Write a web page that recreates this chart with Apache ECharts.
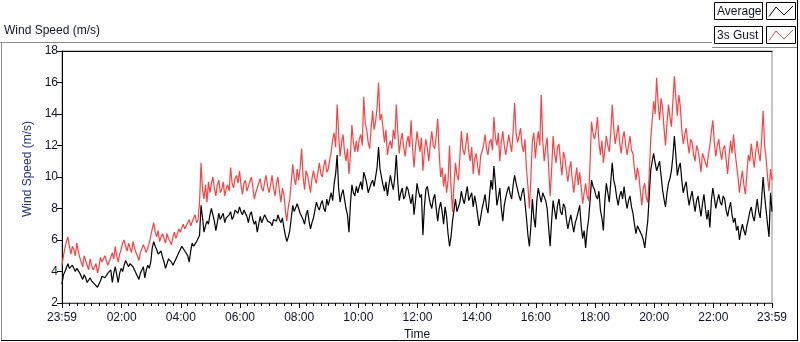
<!DOCTYPE html>
<html>
<head>
<meta charset="utf-8">
<script src="https://cdn.jsdelivr.net/npm/echarts@6/dist/echarts.min.js"></script>
<style>
  html, body { margin: 0; padding: 0; background: #fff; }
  #chart { width: 800px; height: 342px; }
</style>
</head>
<body>
<div id="chart"></div>
<script>
// one sample every 3 minutes, starting at 23:59 of the day before
var stepMin = 3;
var startClock = 23 * 60 + 59;

var seriesNames = ['Average', '3s Gust'];
var seriesColors = ['#000000', '#ff4040'];

// Average (m/s), 20 samples per hour (one row = one hour)
var avgSpeed = [
  3.2,3.8, 4.0,4.1, 4.5,4.2, 4.1,4.4, 4.3,4.0, 4.2,4.3, 3.9,3.7, 3.5,3.8, 3.6,3.3, 3.4,3.6,
  3.4,3.5, 3.2,3.3, 3.0,3.2, 3.4,3.7, 3.8,3.6, 3.6,3.9, 3.8,4.1, 3.3,3.9, 4.3,3.8, 3.3,3.9,
  4.2,4.0, 4.4,4.7, 4.6,4.3, 4.5,4.6, 4.3,4.1, 4.0,3.7, 3.5,3.9, 4.1,4.3, 3.6,4.1, 4.4,4.2,
  4.6,5.5, 5.9,5.6, 5.4,5.1, 5.2,5.3, 4.9,4.6, 4.2,4.5, 4.8,4.7, 4.6,4.4, 4.4,4.8, 5.0,5.2,
  5.3,5.6, 5.5,5.3, 5.2,5.0, 4.6,5.3, 5.8,5.6, 5.5,5.9, 5.9,6.3, 8.2,7.4, 6.5,6.9, 7.2,7.0,
  7.6,8.0, 7.9,7.2, 6.6,7.1, 7.7,7.3, 7.4,7.7, 7.1,7.4, 7.3,7.6, 7.8,7.3, 7.5,7.9, 8.0,7.7,
  8.1,7.8, 7.6,7.9, 8.0,7.5, 7.1,7.6, 7.8,7.3, 7.0,7.2, 6.5,7.0, 7.5,7.1, 7.2,7.6, 7.6,7.2,
  7.3,7.1, 6.9,7.3, 7.4,7.2, 7.6,7.3, 7.1,7.4, 6.8,6.3, 5.9,6.2, 6.6,7.4, 8.2,7.8, 7.9,8.3,
  8.0,7.7, 7.6,7.3, 7.0,7.6, 7.9,7.2, 6.7,7.1, 7.4,7.9, 8.4,8.1, 7.9,8.3, 8.5,8.0, 7.8,8.6,
  8.2,8.6, 9.0,8.5, 9.6,10.2, 11.4,9.3, 8.4,8.9, 9.2,8.6, 8.0,7.6, 6.5,8.3, 9.5,9.0, 8.8,9.4,
  9.0,9.4, 9.7,9.2, 10.3,10.0, 9.6,9.0, 9.1,9.6, 9.8,9.4, 9.3,10.6, 11.9,10.5, 10.0,9.5, 9.1,9.7,
  8.8,9.5, 10.1,9.6, 9.2,10.0, 11.4,9.7, 8.5,9.0, 9.3,8.6, 8.8,9.4, 9.2,8.7, 8.3,8.9, 7.6,8.5,
  9.6,9.1, 8.7,8.9, 6.3,8.1, 9.2,9.4, 8.8,8.3, 8.0,8.6, 8.9,8.0, 7.2,8.0, 8.4,7.8, 7.0,8.1,
  7.5,6.4, 5.6,6.2, 7.2,7.9, 8.6,7.8, 7.7,8.4, 9.1,8.6, 8.3,8.9, 9.4,8.5, 8.6,9.0, 8.1,8.8,
  8.3,7.6, 6.9,7.4, 8.0,8.4, 8.9,8.1, 7.7,8.8, 9.8,9.2, 10.7,9.6, 8.2,8.7, 9.3,8.0, 7.2,8.2,
  8.7,9.1, 9.4,8.9, 8.6,9.5, 10.1,9.6, 9.2,8.8, 8.5,9.0, 9.3,8.4, 7.4,6.3, 5.6,6.9, 8.6,7.4,
  6.8,8.5, 9.3,8.8, 8.4,9.0, 9.1,8.5, 8.0,6.8, 5.6,7.2, 8.5,7.9, 7.3,8.2, 8.6,7.8, 7.6,8.3,
  8.1,7.3, 6.7,7.2, 7.6,7.0, 6.5,7.1, 7.4,7.8, 8.2,6.9, 6.1,6.6, 5.5,6.6, 7.3,8.5, 9.8,9.4,
  9.2,8.8, 8.6,9.1, 7.9,7.4, 6.6,8.5, 9.6,9.0, 8.4,9.7, 10.9,9.8, 9.4,8.7, 8.2,8.8, 9.1,8.6,
  9.4,8.6, 8.0,8.5, 8.8,8.1, 7.7,7.0, 6.4,6.9, 7.0,6.5, 6.3,6.0, 5.5,6.4, 7.2,8.8, 10.4,11.0,
  11.5,10.9, 10.4,10.7, 11.0,10.1, 9.2,8.6, 8.1,9.0, 9.6,9.9, 10.4,11.3, 12.6,11.4, 10.1,10.6, 10.9,9.8,
  9.0,9.4, 9.7,8.8, 8.2,8.7, 9.1,8.4, 7.8,8.5, 8.8,8.1, 7.5,8.3, 8.9,8.0, 7.3,7.9, 6.8,8.5,
  9.3,8.7, 8.0,8.5, 8.9,8.4, 8.2,8.8, 8.6,7.9, 7.5,8.0, 8.4,7.6, 7.1,7.4, 6.6,6.9, 6.0,6.6,
  7.0,6.6, 6.3,6.9, 7.3,7.8, 8.1,7.5, 7.2,7.9, 8.6,7.8, 7.4,8.6, 10.0,8.8, 7.9,7.0, 6.2,9.0,
  7.8
];

// 3s gust (m/s)
var gustSpeed = [
  4.4,5.0, 5.5,5.9, 6.2,5.6, 5.1,5.6, 5.4,5.0, 5.8,5.3, 4.9,4.6, 4.3,5.0, 4.7,4.4, 4.1,4.8,
  4.4,4.1, 4.0,4.5, 3.9,4.3, 4.9,4.6, 4.5,5.0, 4.7,4.4, 4.5,4.9, 5.2,4.8, 5.6,5.0, 4.6,5.1,
  5.4,5.8, 6.0,5.6, 5.3,5.8, 5.5,5.2, 5.9,5.5, 5.2,5.0, 4.7,5.2, 5.3,5.7, 5.6,5.2, 5.5,5.8,
  5.9,6.7, 7.1,6.5, 6.2,6.6, 5.9,6.2, 6.4,6.1, 5.8,6.4, 6.1,5.9, 5.7,6.2, 6.5,6.1, 6.0,6.7,
  6.5,6.8, 7.0,6.7, 6.6,7.1, 7.3,6.9, 7.0,7.4, 7.6,7.1, 7.3,8.4, 10.9,9.2, 8.6,9.5, 8.4,9.7,
  9.0,9.6, 10.0,9.3, 8.8,9.5, 9.8,9.0, 9.2,9.7, 8.8,9.3, 9.5,9.1, 10.6,9.6, 9.3,9.9, 10.1,9.6,
  10.4,9.5, 8.9,9.6, 9.8,9.1, 9.2,9.7, 10.0,9.4, 8.6,9.0, 9.3,9.6, 9.9,9.3, 9.1,9.7, 10.1,9.4,
  9.0,9.5, 10.1,9.3, 8.8,9.6, 10.0,9.1, 8.4,9.3, 8.9,7.9, 7.2,8.1, 8.6,9.7, 10.8,9.9, 9.5,10.5,
  9.8,10.6, 11.8,10.0, 9.2,10.4, 10.1,9.6, 9.0,9.9, 10.4,9.9, 9.6,10.3, 10.9,10.2, 10.0,10.7, 11.1,10.3,
  10.5,11.1, 11.6,12.4, 12.8,11.9, 14.6,12.8, 11.3,12.2, 12.7,11.6, 11.0,11.8, 10.2,11.4, 13.3,12.2, 11.6,12.3,
  11.6,12.4, 12.7,12.0, 15.1,13.4, 13.0,12.2, 11.8,13.1, 14.2,13.0, 13.5,14.4, 16.0,13.6, 14.0,13.1, 12.2,13.0,
  11.4,12.0, 12.3,11.8, 13.0,12.4, 14.6,12.9, 11.5,12.3, 12.8,11.9, 11.3,12.2, 12.6,11.9, 13.6,11.8, 10.6,11.9,
  12.9,12.2, 11.6,12.5, 10.4,11.6, 12.4,11.8, 11.0,12.1, 12.9,12.0, 11.8,12.6, 13.7,11.5, 10.0,10.6, 9.4,10.2,
  9.0,9.8, 12.0,9.4, 7.8,9.5, 10.9,10.1, 9.8,11.3, 12.9,11.8, 11.4,12.0, 12.8,11.6, 11.0,11.9, 10.2,11.2,
  11.5,10.7, 10.1,11.3, 11.2,12.0, 12.7,11.8, 11.4,12.2, 12.4,11.7, 13.8,12.5, 12.0,12.8, 11.0,12.2, 12.9,12.0,
  11.4,12.0, 12.7,12.1, 11.6,12.9, 14.7,12.8, 12.2,12.6, 13.1,12.0, 11.6,12.4, 10.5,9.4, 8.0,10.0, 12.3,12.8,
  11.2,12.2, 12.9,12.0, 15.2,12.3, 11.0,11.9, 12.5,10.6, 8.8,10.4, 12.6,11.5, 10.9,11.9, 12.1,11.0, 10.1,11.6,
  11.2,10.4, 9.7,10.5, 11.0,9.8, 9.0,9.9, 10.6,9.5, 10.3,9.4, 8.3,9.0, 9.6,8.8, 8.5,10.9, 13.5,12.8,
  12.4,12.9, 13.8,12.2, 11.4,12.3, 10.9,11.7, 12.6,12.0, 11.6,12.8, 14.6,13.1, 12.1,12.7, 13.3,12.2, 11.5,12.4,
  12.9,12.1, 11.4,12.0, 12.6,11.7, 11.5,10.5, 9.8,10.6, 10.1,9.1, 8.2,9.3, 9.6,8.7, 8.4,10.2, 12.4,13.6,
  14.8,14.0, 16.3,14.7, 13.6,15.0, 14.4,13.1, 12.0,13.4, 14.6,13.8, 13.2,14.8, 16.4,15.0, 13.9,15.2, 14.5,13.0,
  12.1,12.7, 13.1,12.2, 11.5,12.4, 12.2,11.4, 11.0,12.0, 11.7,11.1, 10.3,11.5, 11.6,10.9, 10.6,11.4, 12.0,12.9,
  13.6,12.2, 11.3,12.0, 12.4,11.6, 11.1,11.8, 12.0,11.1, 10.2,11.4, 12.3,11.5, 12.7,11.6, 10.8,10.0, 9.0,9.8,
  10.4,9.5, 8.9,10.2, 11.4,11.0, 12.1,11.3, 10.6,11.6, 12.3,11.5, 11.0,12.4, 14.2,12.0, 11.2,10.0, 9.1,10.5,
  9.8
];

// x tick labels (minutes after 23:59): 23:59, 02:00, 04:00 ... 22:00, 23:59
var timeLabelMin = [0, 121, 241, 361, 481, 601, 721, 841, 961, 1081, 1201, 1321, 1440];
var yTicks = [2, 4, 6, 8, 10, 12, 14, 16, 18];

var font = 'Liberation Sans, Arial, sans-serif';
var txt = '#10142a';

function toPairs(arr) {
  var out = [];
  for (var i = 0; i < arr.length; i++) out.push([i * stepMin, arr[i]]);
  return out;
}

function clock(m) {
  var t = (Math.round(m) + startClock) % 1440;
  var h = Math.floor(t / 60), mm = t % 60;
  return (h < 10 ? '0' : '') + h + ':' + (mm < 10 ? '0' : '') + mm;
}

// minor ticks every 15 min
var minorTicks = [];
for (var k = 15; k < 1440; k += 15) {
  if (k % 120 !== 0) minorTicks.push(k);
}

// LabVIEW style plot legend: name box + glyph box per plot
function legendRow(i) {
  var y = 2.5 + i * 24;
  return [
    { type: 'rect', shape: { x: 714.5, y: y, width: 48, height: 17 }, style: { fill: '#fff', stroke: '#000', lineWidth: 1 } },
    { type: 'rect', shape: { x: 766.5, y: y, width: 29, height: 17 }, style: { fill: '#fff', stroke: '#000', lineWidth: 1 } },
    { type: 'text', x: 717, y: y + 9, style: { text: seriesNames[i], font: '12px ' + font, fill: txt, verticalAlign: 'middle' } },
    { type: 'polyline', shape: { points: [[769, y + 14], [776, y + 4.5], [784, y + 12.5], [793, y + 3.5]] },
      style: { stroke: seriesColors[i], lineWidth: 1, fill: 'none' } }
  ];
}

var chart = echarts.init(document.getElementById('chart'));
chart.setOption({
  animation: false,
  backgroundColor: '#fff',
  color: seriesColors,
  textStyle: { fontFamily: font },
  grid: {
    left: 62, top: 51, right: 28, bottom: 39,
    outerBoundsMode: 'none', containLabel: false,
    show: true, borderColor: '#8c8c8c', borderWidth: 1
  },
  graphic: [
    // outer frame
    { type: 'line', shape: { x1: 0, y1: 42.5, x2: 712, y2: 42.5 }, style: { stroke: '#8c8c8c', lineWidth: 1 } },
    { type: 'line', shape: { x1: 1.5, y1: 42, x2: 1.5, y2: 341 }, style: { stroke: '#8c8c8c', lineWidth: 1 } },
    { type: 'line', shape: { x1: 1, y1: 340.5, x2: 798, y2: 340.5 }, style: { stroke: '#000', lineWidth: 1 } },
    { type: 'line', shape: { x1: 797.5, y1: 0, x2: 797.5, y2: 341 }, style: { stroke: '#000', lineWidth: 1 } },
    { type: 'line', shape: { x1: 712, y1: 47.5, x2: 797, y2: 47.5 }, style: { stroke: '#8c8c8c', lineWidth: 1 } },
    // graph caption
    { type: 'text', left: 4, top: 25, style: { text: 'Wind Speed (m/s)', font: '12px ' + font, fill: txt } }
  ].concat(legendRow(0), legendRow(1)),
  xAxis: [
    {
      type: 'value', min: 0, max: 1440,
      name: 'Time', nameLocation: 'middle', nameGap: 25,
      nameTextStyle: { fontSize: 12, color: txt },
      axisLine: { show: true, lineStyle: { color: '#444', width: 1 } },
      axisTick: { show: true, length: 5, customValues: timeLabelMin, lineStyle: { color: '#000' } },
      axisLabel: { customValues: timeLabelMin, formatter: clock, fontSize: 12, color: txt, margin: 9 },
      splitLine: { show: false }
    },
    {
      type: 'value', min: 0, max: 1440, position: 'bottom',
      axisLine: { show: false },
      axisTick: { show: true, length: 3, customValues: minorTicks, lineStyle: { color: '#000' } },
      axisLabel: { show: false },
      splitLine: { show: false }
    },
    {
      type: 'value', min: 0, max: 1440, position: 'top',
      axisLine: { show: true, lineStyle: { color: '#000', width: 1 } },
      axisTick: { show: false }, axisLabel: { show: false }, splitLine: { show: false }
    }
  ],
  yAxis: {
    type: 'value', min: 2, max: 18, interval: 2,
    name: 'Wind Speed (m/s)', nameLocation: 'middle', nameGap: 26, nameRotate: 90,
    nameTextStyle: { fontSize: 12, color: '#1d3580', padding: [0, 0, 0, 16] },
    axisLine: { show: true, lineStyle: { color: '#000', width: 1 } },
    axisTick: { show: true, length: 5, customValues: yTicks, lineStyle: { color: '#000' } },
    axisLabel: { fontSize: 12, color: txt, margin: 4 },
    splitLine: { show: false }
  },
  series: [
    {
      name: seriesNames[0], type: 'line', data: toPairs(avgSpeed),
      showSymbol: false, lineStyle: { width: 1.2, color: seriesColors[0] }, z: 3
    },
    {
      name: seriesNames[1], type: 'line', data: toPairs(gustSpeed),
      showSymbol: false, lineStyle: { width: 1.2, color: seriesColors[1] }, z: 2
    }
  ]
});
</script>
</body>
</html>
